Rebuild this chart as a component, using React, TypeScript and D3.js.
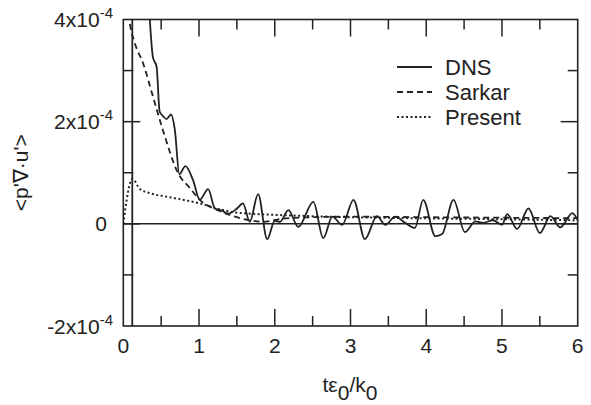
import React from "react";
import * as d3 from "d3";

// values in units of 1e-4
const dnsT = [0.118, 0.12, 0.25, 0.35, 0.39, 0.44, 0.48, 0.53, 0.57, 0.63, 0.68, 0.74, 0.82, 0.92, 1.01, 1.12, 1.21, 1.3, 1.39, 1.5, 1.58, 1.67, 1.78, 1.9, 2.0, 2.07, 2.18, 2.31, 2.51, 2.64, 2.76, 2.89, 3.04, 3.19, 3.35, 3.46, 3.59, 3.72, 3.85, 3.96, 4.12, 4.21, 4.36, 4.51, 4.65, 4.75, 4.88, 5.0, 5.07, 5.2, 5.35, 5.5, 5.64, 5.77, 5.93, 6.0];
const dnsV = [-5, 12, 7, 4.0, 3.27, 3.07, 2.2, 2.1, 2.05, 2.14, 1.85, 0.97, 1.13, 0.86, 0.47, 0.68, 0.3, 0.26, 0.2, 0.3, 0.4, 0.04, 0.58, -0.3, 0.06, 0.04, 0.27, -0.06, 0.43, -0.28, 0.14, -0.02, 0.47, -0.3, 0.15, -0.02, 0.14, 0.02, -0.08, 0.47, -0.24, -0.2, 0.47, -0.16, 0.05, 0.02, 0.07, -0.02, 0.19, -0.1, 0.3, -0.18, 0.15, -0.07, 0.21, 0.07];

const sarkarT = [0.05, 0.08, 0.15, 0.26, 0.39, 0.53, 0.72, 0.88, 1.01, 1.24, 1.45, 1.67, 1.85, 2.1, 2.5, 3.0, 4.0, 5.0, 6.0];
const sarkarV = [4.5, 4.0, 3.55, 3.15, 2.5, 1.8, 1.0, 0.7, 0.47, 0.27, 0.15, 0.07, 0.04, 0.1, 0.13, 0.14, 0.13, 0.12, 0.11];

const presentT = [0, 0.12, 0.22, 0.35, 0.58, 0.79, 1.01, 1.24, 1.45, 1.8, 2.1, 2.5, 3.0, 3.88, 5.0, 6.0];
const presentV = [0, 0.88, 0.68, 0.6, 0.53, 0.47, 0.4, 0.3, 0.23, 0.19, 0.17, 0.15, 0.13, 0.11, 0.09, 0.07];

const xMajor = [0, 1, 2, 3, 4, 5, 6];
const xMinor = [0.5, 1.5, 2.5, 3.5, 4.5, 5.5];
const yMajor = [-2, 0, 2, 4];
const yMinor = [-1, 1, 3];
const yLabels = [
  { v: 4, main: "4x10", exp: "-4" },
  { v: 2, main: "2x10", exp: "-4" },
  { v: 0, main: "0", exp: "" },
  { v: -2, main: "-2x10", exp: "-4" },
];

const legendItems = [
  { name: "DNS", dash: "none" },
  { name: "Sarkar", dash: "6,4" },
  { name: "Present", dash: "2,2.5" },
];

const L = 123.3, R = 577.7, T = 19.5, B = 326;
const INK = "#222";
const FONT = "'Liberation Sans', Arial, Helvetica, sans-serif";

export default function App() {
  const x = d3.scaleLinear().domain([0, 6]).range([L, R]);
  const y = d3.scaleLinear().domain([-2, 4]).range([B, T]);
  const line = d3
    .line<[number, number]>()
    .x((d) => x(d[0]))
    .y((d) => y(d[1]))
    .curve(d3.curveMonotoneX);
  const zip = (a: number[], b: number[]) => a.map((t, i) => [t, b[i]] as [number, number]);
  const majLen = 17, minLen = 10;

  return (
    <svg
      width={591}
      height={405}
      style={{ position: "fixed", left: 0, top: 0, background: "#fff" }}
      fontFamily={FONT}
    >
      <defs>
        <clipPath id="plotclip">
          <rect x={L} y={T} width={R - L} height={B - T} />
        </clipPath>
      </defs>
      <rect width={591} height={405} fill="#fff" />
      {/* zero reference line */}
      <line x1={L} x2={R} y1={y(0)} y2={y(0)} stroke={INK} strokeWidth={1.5} />
      <g clipPath="url(#plotclip)" fill="none" stroke={INK}>
        <path d={line(zip(presentT, presentV)) || ""} strokeWidth={2} strokeDasharray="2,2.5" />
        <path d={line(zip(sarkarT, sarkarV)) || ""} strokeWidth={1.8} strokeDasharray="6,4" />
        <path d={line(zip(dnsT, dnsV)) || ""} strokeWidth={1.8} />
      </g>
      {/* frame */}
      <rect x={L} y={T} width={R - L} height={B - T} fill="none" stroke={INK} strokeWidth={1.6} />
      {/* ticks */}
      <g stroke={INK} strokeWidth={1.5}>
        {xMajor.slice(1, -1).map((t) => (
          <g key={"xm" + t}>
            <line x1={x(t)} x2={x(t)} y1={B} y2={B - majLen} />
            <line x1={x(t)} x2={x(t)} y1={T} y2={T + majLen} />
          </g>
        ))}
        {xMinor.map((t) => (
          <g key={"xn" + t}>
            <line x1={x(t)} x2={x(t)} y1={B} y2={B - minLen} />
            <line x1={x(t)} x2={x(t)} y1={T} y2={T + minLen} />
          </g>
        ))}
        {yMajor.slice(1, -1).map((v) => (
          <g key={"ym" + v}>
            <line x1={L} x2={L + majLen} y1={y(v)} y2={y(v)} />
            <line x1={R} x2={R - majLen} y1={y(v)} y2={y(v)} />
          </g>
        ))}
        {yMinor.map((v) => (
          <g key={"yn" + v}>
            <line x1={L} x2={L + minLen} y1={y(v)} y2={y(v)} />
            <line x1={R} x2={R - minLen} y1={y(v)} y2={y(v)} />
          </g>
        ))}
      </g>
      {/* x tick labels */}
      <g fontSize={21} fill={INK} textAnchor="middle">
        {xMajor.map((t) => (
          <text key={"xl" + t} x={x(t)} y={353}>
            {t}
          </text>
        ))}
      </g>
      {/* y tick labels */}
      <g fontSize={21} fill={INK} textAnchor="end">
        {yLabels.map((d) => (
          <text key={"yl" + d.v} x={d.exp ? 113 : 107} y={y(d.v) + 7.5}>
            {d.main}
            {d.exp && (
              <tspan dy={-9} fontSize={15}>
                {d.exp}
              </tspan>
            )}
          </text>
        ))}
      </g>
      {/* axis titles */}
      <text x={350} y={392} fontSize={21} fill={INK} textAnchor="middle">
        tε<tspan dy={8}>0</tspan>
        <tspan dy={-8}>/k</tspan>
        <tspan dy={8}>0</tspan>
      </text>
      <text
        transform={`translate(28,${(T + B) / 2}) rotate(-90)`}
        fontSize={21}
        fill={INK}
        textAnchor="middle"
      >
        {"<p'∇·u'>"}
      </text>
      {/* legend */}
      <g>
        {legendItems.map((d, i) => {
          const ly = 67 + i * 25;
          return (
            <g key={d.name}>
              <line
                x1={397}
                x2={432}
                y1={ly}
                y2={ly}
                stroke={INK}
                strokeWidth={d.dash === "2,2.5" ? 2 : 1.8}
                strokeDasharray={d.dash}
              />
              <text x={445} y={ly + 7.5} fontSize={22} fill={INK}>
                {d.name}
              </text>
            </g>
          );
        })}
      </g>
    </svg>
  );
}
